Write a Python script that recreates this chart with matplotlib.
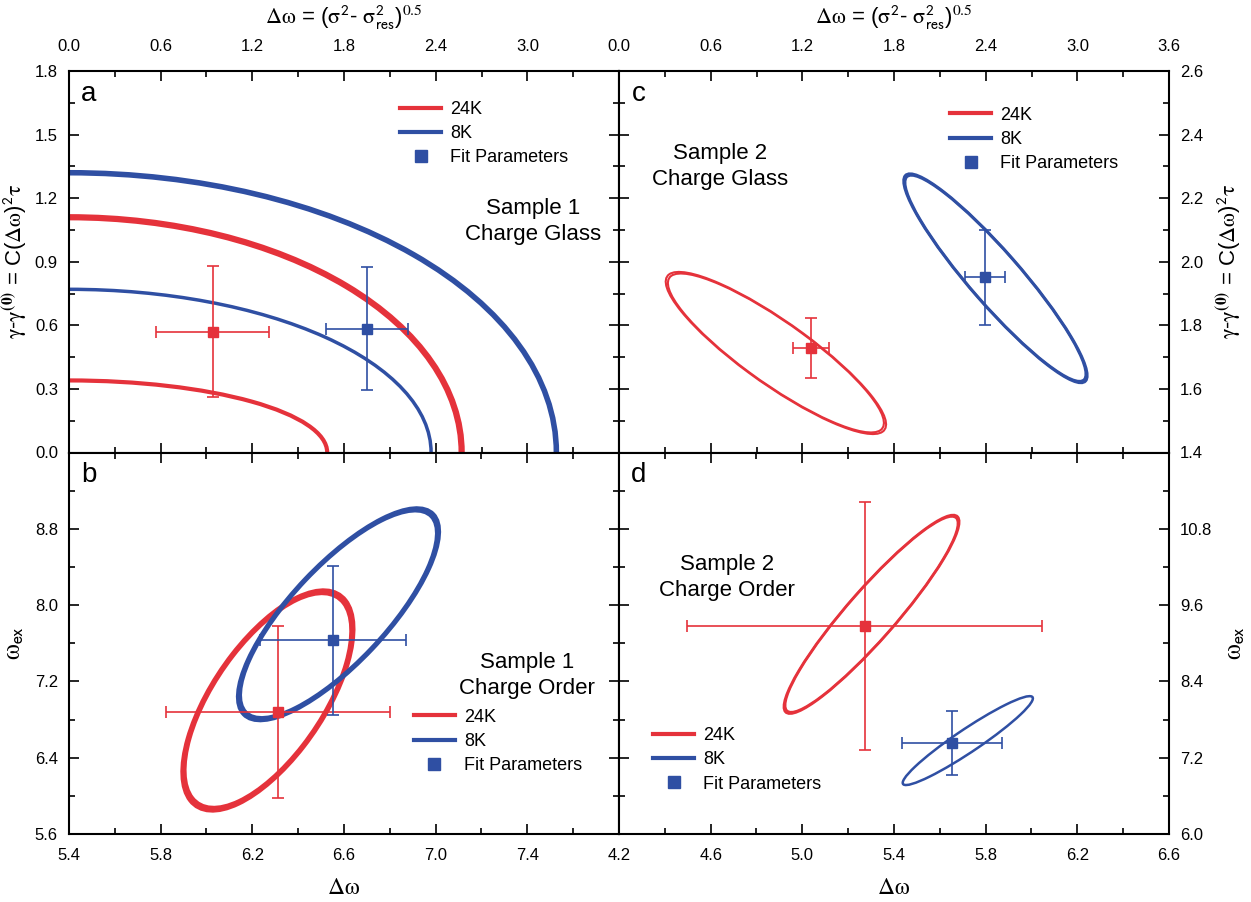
import numpy as np
import matplotlib
matplotlib.use("Agg")
import matplotlib.pyplot as plt
from matplotlib.patches import Ellipse
from matplotlib.lines import Line2D
import matplotlib.transforms as transforms
from matplotlib.ticker import MultipleLocator

plt.rcParams['font.family'] = ['Liberation Sans', 'DejaVu Sans']
plt.rcParams['mathtext.fontset'] = 'stix'
plt.rcParams['mathtext.default'] = 'rm'

RED = '#e5323b'
BLUE = '#2f4fa3'

# panel a: arcs (x-intercept, y-intercept), fit points
a_red_arcs = [(1.69, 0.34), (2.57, 1.11)]
a_blue_arcs = [(2.37, 0.77), (3.19, 1.32)]
a_red_pt = (0.94, 0.57, 0.37, 0.31)      # x, y, xerr, yerr
a_blue_pt = (1.95, 0.585, 0.27, 0.29)

# ellipses: cx, cy, half x-extent, half y-extent, correlation
b_red_ell = (6.268, 7.00, 0.364, 1.126, 0.65)
b_blue_ell = (6.576, 7.904, 0.43, 1.089, 0.78)
b_red_pt = (6.312, 6.878, 0.49, 0.90)
b_blue_pt = (6.552, 7.631, 0.32, 0.78)

c_red_ell = (1.027, 1.713, 0.707, 0.250, -0.88)
c_blue_ell = (2.464, 1.948, 0.592, 0.324, -0.93)
c_red_pt = (1.257, 1.728, 0.115, 0.095)
c_blue_pt = (2.395, 1.951, 0.13, 0.15)

d_red_ell = (5.302, 9.455, 0.377, 1.539, 0.93)
d_blue_ell = (5.722, 7.469, 0.284, 0.699, 0.95)
d_red_pt = (5.273, 9.267, 0.775, 1.95)
d_blue_pt = (5.653, 7.429, 0.22, 0.50)


def conf_ellipse(ax, ell, color, lw, grow=1.0):
    cx, cy, hx, hy, rho = ell
    for s in ([1.0, grow] if grow != 1.0 else [1.0]):
        e = Ellipse((0, 0), width=2 * np.sqrt(1 + rho), height=2 * np.sqrt(1 - rho),
                    facecolor='none', edgecolor=color, lw=lw)
        t = transforms.Affine2D().rotate_deg(45).scale(hx * s, hy * s).translate(cx, cy)
        e.set_transform(t + ax.transData)
        ax.add_patch(e)


def fit_point(ax, pt, color):
    x, y, xe, ye = pt
    ax.errorbar([x], [y], xerr=[xe], yerr=[ye], fmt='s', color=color, ms=7,
                elinewidth=1.2, capsize=4, capthick=1.2, zorder=5)


def style(ax, xlim, ylim, xmaj, ymaj, xlab, ylab, top, left):
    ax.set_xlim(xlim)
    ax.set_ylim(ylim)
    xt = np.arange(xlim[0], xlim[1] + 1e-9, xmaj)
    yt = np.arange(ylim[0], ylim[1] + 1e-9, ymaj)
    ax.set_xticks(xt)
    ax.set_yticks(yt)
    ax.set_xticklabels(['%.1f' % v if i in xlab else '' for i, v in enumerate(xt)])
    ax.set_yticklabels(['%.1f' % v if i in ylab else '' for i, v in enumerate(yt)])
    ax.xaxis.set_minor_locator(MultipleLocator(xmaj / 2))
    ax.yaxis.set_minor_locator(MultipleLocator(ymaj / 2))
    ax.tick_params(which='both', direction='in', top=True, bottom=True, left=True, right=True,
                   labeltop=top, labelbottom=not top, labelleft=left, labelright=not left,
                   labelsize=12, width=1.2)
    ax.tick_params(which='major', length=7)
    ax.tick_params(which='minor', length=4)
    ax.tick_params(axis='x', pad=12 if top else 10)
    ax.tick_params(axis='y', pad=8)
    for sp in ax.spines.values():
        sp.set_linewidth(1.5)


def legend(ax, anchor, loc):
    h = [Line2D([], [], color=RED, lw=3), Line2D([], [], color=BLUE, lw=3),
         Line2D([], [], ls='none', marker='s', color=BLUE, ms=8)]
    ax.legend(h, ['24K', '8K', 'Fit Parameters'], loc=loc, bbox_to_anchor=anchor,
              frameon=False, fontsize=13, handlelength=2.3, handletextpad=0.5,
              labelspacing=0.4, borderpad=0)


fig = plt.figure(figsize=(12.51, 9.02), dpi=100)
L, R, B, T = 69 / 1251, 1169 / 1251, 1 - 834 / 902, 1 - 71 / 902
w, h = (R - L) / 2, (T - B) / 2
ax_a = fig.add_axes([L, B + h, w, h])
ax_c = fig.add_axes([L + w, B + h, w, h])
ax_b = fig.add_axes([L, B, w, h])
ax_d = fig.add_axes([L + w, B, w, h])

# panel a
for (xi, yi), lw in zip(a_red_arcs, [3, 4.5]):
    ax_a.add_patch(Ellipse((0, 0), 2 * xi, 2 * yi, facecolor='none', edgecolor=RED, lw=lw))
for (xi, yi), lw in zip(a_blue_arcs, [2.5, 4]):
    ax_a.add_patch(Ellipse((0, 0), 2 * xi, 2 * yi, facecolor='none', edgecolor=BLUE, lw=lw))
fit_point(ax_a, a_red_pt, RED)
fit_point(ax_a, a_blue_pt, BLUE)
style(ax_a, (0, 3.6), (0, 1.8), 0.6, 0.3, range(6), range(7), True, True)

# panel c
conf_ellipse(ax_c, c_red_ell, RED, 1.5, 1.02)
conf_ellipse(ax_c, c_blue_ell, BLUE, 2, 1.015)
fit_point(ax_c, c_red_pt, RED)
fit_point(ax_c, c_blue_pt, BLUE)
style(ax_c, (0, 3.6), (1.4, 2.6), 0.6, 0.2, range(7), range(7), True, False)

# panel b
conf_ellipse(ax_b, b_red_ell, RED, 3, 1.025)
conf_ellipse(ax_b, b_blue_ell, BLUE, 3, 1.02)
fit_point(ax_b, b_red_pt, RED)
fit_point(ax_b, b_blue_pt, BLUE)
style(ax_b, (5.4, 7.8), (5.6, 9.6), 0.4, 0.8, range(6), range(5), False, True)

# panel d
conf_ellipse(ax_d, d_red_ell, RED, 1.8, 1.015)
conf_ellipse(ax_d, d_blue_ell, BLUE, 1.8)
fit_point(ax_d, d_red_pt, RED)
fit_point(ax_d, d_blue_pt, BLUE)
style(ax_d, (4.2, 6.6), (6.0, 12.0), 0.4, 1.2, range(7), range(5), False, False)

legend(ax_a, (0.585, 0.945), 'upper left')
legend(ax_c, (0.585, 0.93), 'upper left')
legend(ax_b, (0.61, 0.133), 'lower left')
legend(ax_d, (0.045, 0.085), 'lower left')

txt = dict(fontsize=16, ha='center', va='center', linespacing=1.3)
ax_a.text(0.844, 0.606, 'Sample 1\nCharge Glass', transform=ax_a.transAxes, **txt)
ax_c.text(0.184, 0.75, 'Sample 2\nCharge Glass', transform=ax_c.transAxes, **txt)
ax_b.text(0.833, 0.416, 'Sample 1\nCharge Order', transform=ax_b.transAxes, **txt)
ax_d.text(0.196, 0.673, 'Sample 2\nCharge Order', transform=ax_d.transAxes, **txt)

for ax, s in [(ax_a, 'a'), (ax_b, 'b'), (ax_c, 'c'), (ax_d, 'd')]:
    ax.text(0.036, 0.94, s, transform=ax.transAxes, fontsize=20, ha='center', va='center')

top_lab = r'$\Delta\omega$ = ($\sigma^{\mathsf{2}}$- $\sigma^{\mathsf{2}}_{\mathsf{res}}$)$^{0.5}$'
gam_lab = r'$\gamma$-$\gamma^{\mathbf{(0)}}$ = C($\Delta\omega$)$^{\mathsf{2}}\tau$'
om_lab = r'$\omega_{\mathsf{ex}}$'
for ax in (ax_a, ax_c):
    ax.xaxis.set_label_position('top')
    ax.set_xlabel(top_lab, fontsize=16, labelpad=11)
for ax in (ax_b, ax_d):
    ax.set_xlabel(r'$\Delta\omega$', fontsize=17, labelpad=10)
ax_a.set_ylabel(gam_lab, fontsize=16, labelpad=4)
ax_b.set_ylabel(om_lab, fontsize=18, labelpad=6)
for ax, lab, fs in [(ax_c, gam_lab, 16), (ax_d, om_lab, 18)]:
    ax.yaxis.set_label_position('right')
    ax.set_ylabel(lab, fontsize=fs, labelpad=8, rotation=90)

fig.savefig('out.png', dpi=100)
